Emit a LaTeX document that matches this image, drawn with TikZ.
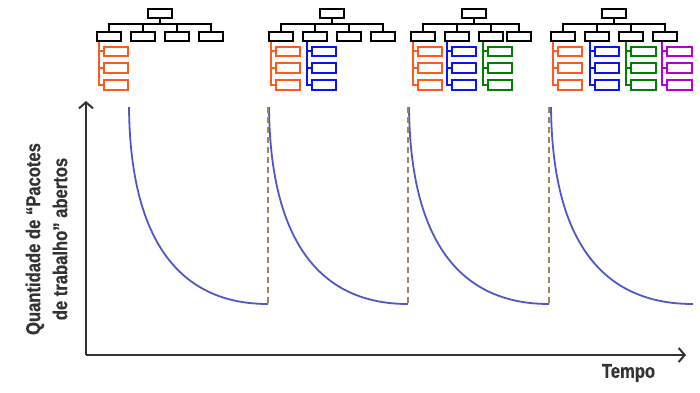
\documentclass[tikz,border=0pt]{standalone}
\usepackage{fontspec}
\setmainfont{Liberation Sans}
\newfontfamily\labelfont{Liberation Sans}[FakeStretch=0.83, BoldFeatures={FakeBold=0.6}]
\usetikzlibrary{arrows.meta}

\definecolor{orng}{HTML}{FF5A1E}
\definecolor{blu}{HTML}{0A14F0}
\definecolor{grn}{HTML}{008000}
\definecolor{purp}{HTML}{B400D2}
\definecolor{decaycol}{HTML}{5058C8}
\definecolor{guidecol}{HTML}{9C8660}
\definecolor{ink}{HTML}{333333}

\tikzset{
  box/.style={draw, line width=2pt, minimum width=24pt, minimum height=9pt, inner sep=0pt},
  subbox/.style={box, minimum width=24.6pt, minimum height=9.4pt},
  tree/.style={line width=2pt},
  axis/.style={ink, line width=2pt},
  decay/.style={decaycol, line width=1.8pt},
  guide/.style={guidecol, line width=1.8pt, dash pattern=on 6pt off 4pt},
  lbl/.style={text=ink, font=\labelfont\bfseries\fontsize{20}{27}\selectfont, inner sep=0pt}
}

\begin{document}
\begin{tikzpicture}[x=1pt, y=-1pt, >={Straight Barb[length=6pt,width=14pt,line width=2pt]}]
    \useasboundingbox (0,0) rectangle (700,392);

    % Work breakdown trees
    \foreach \t/\r/\last/\subs in {1/160/51/{98.7/orng}, 2/332/51/{270.7/orng,306.7/blu}, 3/474/45/{412.7/orng,446.7/blu,482.7/grn}, 4/614/51/{552.7/orng,589.5/blu,626/grn,662/purp}}{
        \node[box] (r\t) at (\r,13.5) {};
        \foreach \dx [count=\j] in {-51.3,-17,17,\last}{
            \node[box] (c\t-\j) at ({\r+\dx},36.5) {};
            \draw[tree] (r\t.south) -- ++(0,5.3) -| (c\t-\j.north);
        }
        \foreach \v/\col [count=\k] in \subs{
            \coordinate (v\t-\k) at (c\t-\k.south -| \v,0);
            \foreach \y [count=\i] in {51.3,68,85}{
                \node[subbox, draw=\col] (s\t-\k-\i) at ({\v+17.3},\y) {};
                \draw[tree, \col] (v\t-\k) |- (s\t-\k-\i.west);
            }
        }
    }

    % Axes
    \coordinate (o) at (86,355);
    \draw[axis, ->] (o) -- (686,355);
    \draw[axis, ->] (o) -- (86,101);

    % Open work packages over time
    \foreach \a/\b in {129/268, 269/408, 409/549, 551/693}{
        \draw[decay] (\a,107) .. controls ({\a+1},228) and ({\a+42},304) .. (\b,304);
    }
    \foreach \b in {268,408,549}
        \draw[guide] (\b,107) -- (\b,304);

    % Labels
    \node[lbl, rotate=90, align=center] (ylab) at (46.5,239) {Quantidade de “Pacotes\\de trabalho” abertos};
    \node[lbl] (tempo) at (628.5,373) {Tempo};
\end{tikzpicture}
\end{document}
